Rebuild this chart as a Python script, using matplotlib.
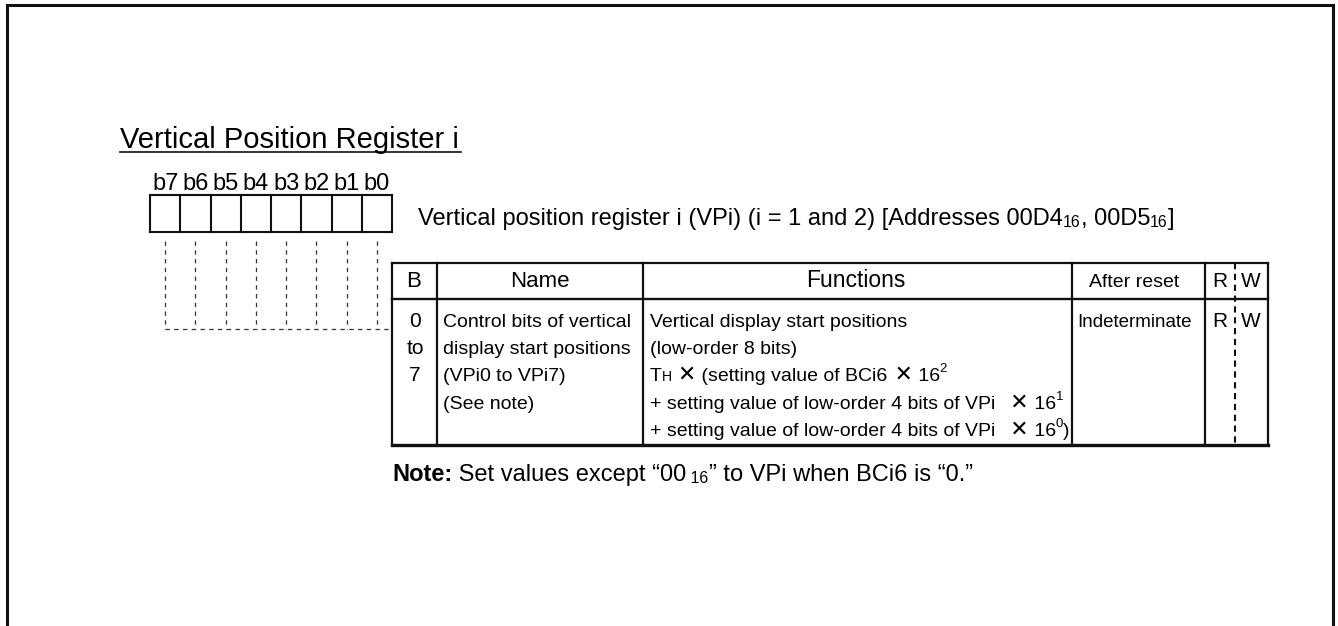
import matplotlib
matplotlib.use("Agg")
import matplotlib.pyplot as plt

# ---- content of the register sheet ----
title = "Vertical Position Register i"
bit_labels = ["b7", "b6", "b5", "b4", "b3", "b2", "b1", "b0"]
reg_desc = [("Vertical position register i (VPi) (i = 1 and 2) [Addresses 00D4", "n"),
            ("16", "sub"), (", 00D5", "n"), ("16", "sub"), ("]", "n")]
headers = ["B", "Name", "Functions", "After reset", "R", "W"]
bit_range = ["0", "to", "7"]
name_lines = ["Control bits of vertical", "display start positions",
              "(VPi0 to VPi7)", "(See note)"]
func_lines = [
    [("Vertical display start positions", "n")],
    [("(low-order 8 bits)", "n")],
    [("T", "n"), ("H", "sc"), (" ", "n"), ("\u2715", "x"), (" (setting value of BCi6", "n"),
     (" \u2715", "x"), (" 16", "n"), ("2", "sup")],
    [("+ setting value of low-order 4 bits of VPi", "n"), ("  \u2715", "x"), (" 16", "n"), ("1", "sup")],
    [("+ setting value of low-order 4 bits of VPi", "n"), ("  \u2715", "x"), (" 16", "n"), ("0", "sup"),
     (")", "n")],
]
after_reset = "Indeterminate"
rw_access = ["R", "W"]
note = [("Note:", "b"), (" Set values except \u201c00", "n"), (" 16", "sub"),
        ("\u201d to VPi when BCi6 is \u201c0.\u201d", "n")]

# ---- layout (pixels) ----
W, H = 1338, 626
FAM = ["Liberation Sans", "DejaVu Sans"]
box_x0, box_x1, box_y0, box_y1 = 150, 392, 195, 232
col_x = [392, 437, 643, 1072, 1205, 1268]
rw_split = 1235
row_y = [263, 299, 445]
line_y = [327, 354, 381, 409, 436]   # baselines of body lines

# kind -> (size scale, baseline shift in em, weight, family)
STYLE = {
    "n": (1.0, 0.0, "normal", FAM),
    "b": (1.0, 0.0, "bold", FAM),
    "sub": (0.68, 0.08, "normal", FAM),
    "sup": (0.68, -0.45, "normal", FAM),
    "sc": (0.72, 0.0, "normal", FAM),
    "x": (1.12, 0.0, "bold", ["DejaVu Sans"]),
}

fig = plt.figure(figsize=(W / 100, H / 100), dpi=100)
ax = fig.add_axes([0, 0, 1, 1])
ax.set_xlim(0, W)
ax.set_ylim(H, 0)
ax.axis("off")
renderer = fig.canvas.get_renderer()
PX = 0.72  # points per pixel


def runs(x, y, parts, size):
    for txt, kind in parts:
        sc, dy, wt, fam = STYLE[kind]
        t = ax.text(x, y + dy * size / PX, txt, fontsize=size * sc, fontweight=wt,
                    family=fam, ha="left", va="baseline")
        x = ax.transData.inverted().transform(
            (t.get_window_extent(renderer).x1, 0))[0]
    return x


def hline(y, x0, x1, lw=1.5, **kw):
    ax.plot([x0, x1], [y, y], color="#111", lw=lw, solid_capstyle="projecting", **kw)


def vline(x, y0, y1, lw=1.5, **kw):
    ax.plot([x, x], [y0, y1], color="#111", lw=lw, solid_capstyle="projecting", **kw)


# outer frame (open at the bottom)
hline(5, 7, 1333, lw=2.2)
vline(7, 5, H + 5, lw=2.2)
vline(1333, 5, H + 5, lw=2.2)

# title with underline
t = ax.text(120, 148, title, fontsize=21, family=FAM, ha="left", va="baseline")
bb = t.get_window_extent(renderer)
ux = ax.transData.inverted().transform([(bb.x0, 0), (bb.x1, 0)])[:, 0]
hline(152, ux[0], ux[1] + 2, lw=1.2)

# bit cells
cw = (box_x1 - box_x0) / len(bit_labels)
for i, lab in enumerate(bit_labels):
    cx = box_x0 + (i + 0.5) * cw
    ax.text(cx, 190, lab, fontsize=17, family=FAM, ha="center", va="baseline")
    vline(box_x0 + i * cw, box_y0, box_y1, lw=1.5)
    # dashed leader from every bit
    ax.plot([cx, cx], [241, 329], color="#333", lw=0.9, ls=(0, (3.5, 3.5)))
vline(box_x1, box_y0, box_y1, lw=1.5)
hline(box_y0, box_x0, box_x1, lw=1.5)
hline(box_y1, box_x0, box_x1, lw=1.5)
ax.plot([box_x0 + 0.5 * cw, col_x[0]], [329, 329], color="#333", lw=0.9, ls=(0, (3.5, 3.5)))

runs(418, 225, reg_desc, 17)

# table frame
for x in col_x:
    vline(x, row_y[0], row_y[2], lw=1.6)
hline(row_y[0], col_x[0], col_x[-1], lw=1.6)
hline(row_y[1], col_x[0], col_x[-1], lw=1.7)
hline(row_y[2], col_x[0], col_x[-1], lw=2.4)
ax.plot([rw_split, rw_split], [row_y[0], row_y[2]], color="#111", lw=1.5, ls=(0, (3, 2.2)))

# header row
hy = 287
hdr_x = [414, 540, 856, 1134, 1220, 1251]
hdr_size = [16, 16, 16.5, 14, 15, 15]
for lab, x, s in zip(headers, hdr_x, hdr_size):
    ax.text(x, hy, lab, fontsize=s, family=FAM, ha="center", va="baseline")

# body row
for lab, y in zip(bit_range, line_y):
    ax.text(415, y, lab, fontsize=15, family=FAM, ha="center", va="baseline")
for lab, y in zip(name_lines, line_y):
    ax.text(443, y, lab, fontsize=14, family=FAM, ha="left", va="baseline")
for parts, y in zip(func_lines, line_y):
    runs(650, y, parts, 14)
ax.text(1077, line_y[0], after_reset, fontsize=13.5, family=FAM, ha="left", va="baseline")
ax.text(1220, line_y[0], rw_access[0], fontsize=15, family=FAM, ha="center", va="baseline")
ax.text(1251, line_y[0], rw_access[1], fontsize=15, family=FAM, ha="center", va="baseline")

runs(392, 481, note, 17)

fig.savefig("out.png", dpi=100)
